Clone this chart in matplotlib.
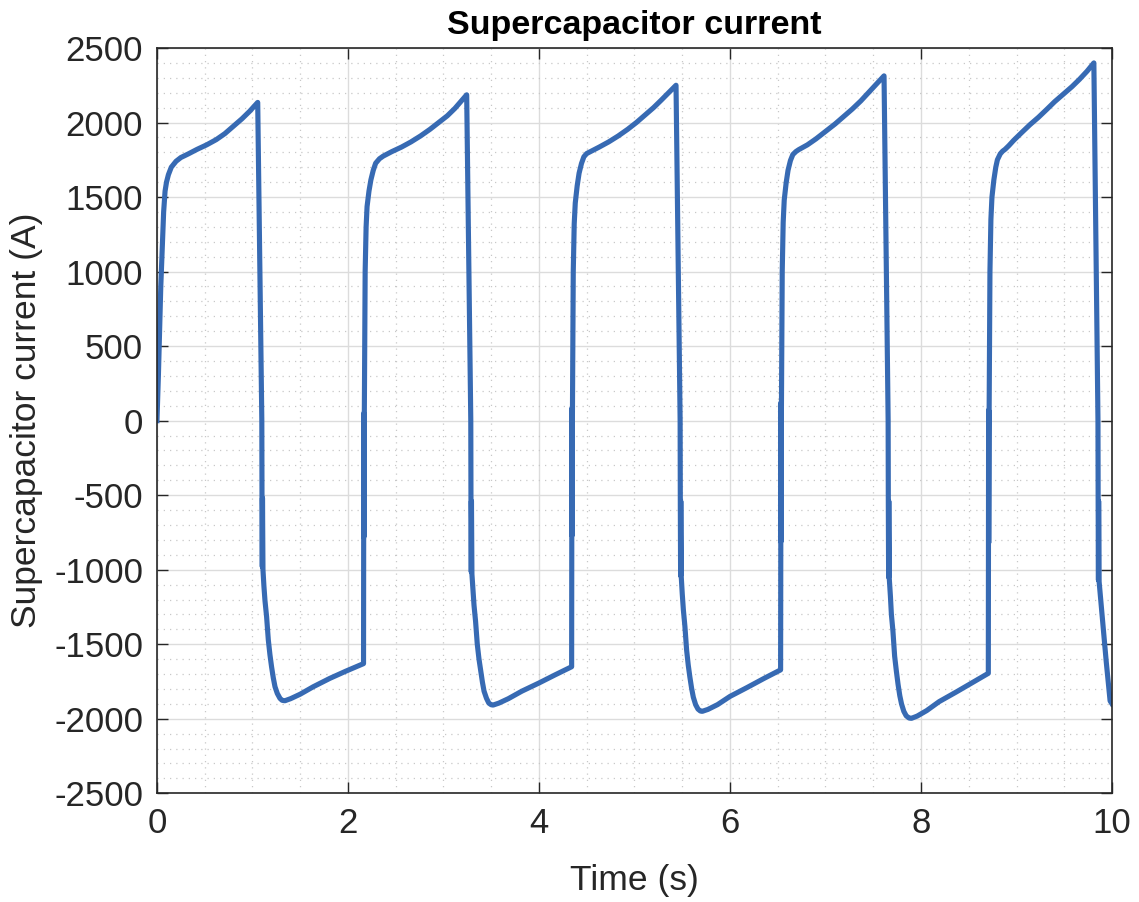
import matplotlib
matplotlib.use("Agg")
import matplotlib.pyplot as plt
from matplotlib.ticker import MultipleLocator

plt.rcParams['font.family'] = ['Liberation Sans', 'DejaVu Sans']
plt.rcParams['axes.unicode_minus'] = False

# cycle 1: start from zero, charge, peak, drop
t_c1 = [0.0, 0.015, 0.04, 0.055, 0.07, 0.085, 0.10, 0.12, 0.15, 0.20, 0.25, 0.33, 0.42, 0.52, 0.62, 0.71, 0.80, 0.89, 0.97, 1.055,
        1.098, 1.100, 1.103, 1.105, 1.110, 1.12, 1.131, 1.148, 1.166, 1.183, 1.20, 1.218, 1.236, 1.26, 1.288, 1.31, 1.34,
        1.40, 1.50, 1.637, 1.81, 1.98]
i_c1 = [0, 300, 900, 1150, 1400, 1540, 1600, 1650, 1700, 1740, 1765, 1790, 1820, 1850, 1885, 1925, 1975, 2025, 2075, 2135,
        0, -560, -980, -520, -1000, -1110, -1207, -1315, -1471, -1570, -1651, -1725, -1785, -1830, -1863, -1876, -1879,
        -1865, -1835, -1785, -1729, -1680]

# cycle 2
t_c2 = [2.163, 2.165, 2.166, 2.167, 2.170, 2.18, 2.19, 2.20, 2.22, 2.24, 2.265, 2.29, 2.33, 2.37, 2.46, 2.56, 2.66, 2.76, 2.86, 2.95, 3.04, 3.12, 3.243,
        3.286, 3.288, 3.291, 3.293, 3.298, 3.31, 3.32, 3.336, 3.354, 3.372, 3.39, 3.408, 3.425, 3.45, 3.475, 3.50, 3.52,
        3.58, 3.68, 3.82, 4.0, 4.17]
i_c2 = [-1630, -790, 50, -780, -100, 1000, 1300, 1436, 1540, 1615, 1680, 1727, 1757, 1775, 1805, 1835, 1870, 1910, 1955, 2000, 2045, 2095, 2186,
        0, -560, -1015, -540, -1030, -1140, -1240, -1345, -1500, -1600, -1680, -1755, -1815, -1862, -1895, -1906, -1908,
        -1895, -1865, -1815, -1760, -1705]

# cycle 3
t_c3 = [4.342, 4.344, 4.345, 4.346, 4.349, 4.359, 4.369, 4.38, 4.40, 4.42, 4.445, 4.47, 4.50, 4.54, 4.63, 4.73, 4.83, 4.93, 5.02, 5.11, 5.20, 5.28, 5.435,
        5.478, 5.480, 5.483, 5.485, 5.490, 5.50, 5.512, 5.528, 5.546, 5.563, 5.58, 5.598, 5.616, 5.64, 5.665, 5.69, 5.71,
        5.77, 5.87, 6.0, 6.18, 6.36]
i_c3 = [-1651, -780, 85, -770, -100, 1000, 1320, 1460, 1575, 1660, 1725, 1770, 1792, 1805, 1835, 1870, 1910, 1955, 2000, 2050, 2100, 2150, 2250,
        0, -560, -1040, -540, -1050, -1160, -1270, -1380, -1540, -1640, -1720, -1795, -1855, -1905, -1935, -1948, -1950,
        -1937, -1905, -1850, -1790, -1728]

# cycle 4
t_c4 = [6.530, 6.532, 6.533, 6.534, 6.537, 6.547, 6.557, 6.568, 6.588, 6.608, 6.633, 6.658, 6.69, 6.72, 6.81, 6.90, 7.00, 7.10, 7.19, 7.28, 7.37, 7.45, 7.613,
        7.656, 7.658, 7.661, 7.663, 7.668, 7.68, 7.69, 7.706, 7.724, 7.742, 7.76, 7.778, 7.796, 7.82, 7.845, 7.875, 7.90,
        7.96, 8.06, 8.19, 8.37, 8.54]
i_c4 = [-1672, -820, 120, -810, -100, 1000, 1330, 1480, 1595, 1680, 1745, 1785, 1805, 1818, 1850, 1890, 1940, 1990, 2040, 2090, 2145, 2200, 2313,
        0, -560, -1050, -540, -1060, -1180, -1300, -1410, -1580, -1680, -1770, -1845, -1900, -1950, -1980, -1995, -1997,
        -1982, -1945, -1885, -1820, -1757]

# cycle 5 (cut at 10 s)
t_c5 = [8.705, 8.707, 8.708, 8.709, 8.712, 8.722, 8.732, 8.743, 8.763, 8.783, 8.80, 8.83, 8.855, 8.88, 8.92, 8.97, 9.05, 9.14, 9.23, 9.32, 9.40, 9.49, 9.58, 9.66, 9.74, 9.81,
        9.853, 9.855, 9.858, 9.860, 9.865, 9.90, 9.94, 9.98, 10.0]
i_c5 = [-1695, -830, 70, -820, -100, 1000, 1350, 1500, 1615, 1700, 1750, 1790, 1808, 1820, 1845, 1880, 1930, 1985, 2035, 2090, 2140, 2190, 2240, 2290, 2345, 2400,
        0, -560, -1070, -540, -1080, -1330, -1620, -1880, -1900]

t = t_c1 + t_c2 + t_c3 + t_c4 + t_c5
cur = i_c1 + i_c2 + i_c3 + i_c4 + i_c5

fig = plt.figure(figsize=(11.39, 9.02), dpi=100)
ax = fig.add_axes([0.1378, 0.1205, 0.8385, 0.8263])
ax.plot(t, cur, color='#376AB3', linewidth=3.7, solid_joinstyle='round')

ax.set_xlim(0, 10)
ax.set_ylim(-2500, 2500)
ax.xaxis.set_major_locator(MultipleLocator(2))
ax.xaxis.set_minor_locator(MultipleLocator(0.5))
ax.yaxis.set_major_locator(MultipleLocator(500))
ax.yaxis.set_minor_locator(MultipleLocator(100))

ax.grid(which='major', color='#dcdcdc', linewidth=1.0, linestyle='-')
ax.grid(which='minor', color='#c8c8c8', linewidth=0.9, linestyle=(0, (1, 4)))
ax.set_axisbelow(True)

ax.tick_params(which='major', direction='in', length=8, width=1.0, top=True, right=True,
               labelsize=25, colors='#262626', pad=10)
ax.tick_params(which='minor', length=0)
for s in ax.spines.values():
    s.set_color('#262626')
    s.set_linewidth(1.2)

ax.set_title('Supercapacitor current', fontsize=24.5, fontweight='bold', pad=10)
ax.set_xlabel('Time (s)', fontsize=25.5, color='#262626', labelpad=17)
ax.set_ylabel('Supercapacitor current (A)', fontsize=25.5, color='#262626', labelpad=8)

fig.savefig('out.png', dpi=100)
